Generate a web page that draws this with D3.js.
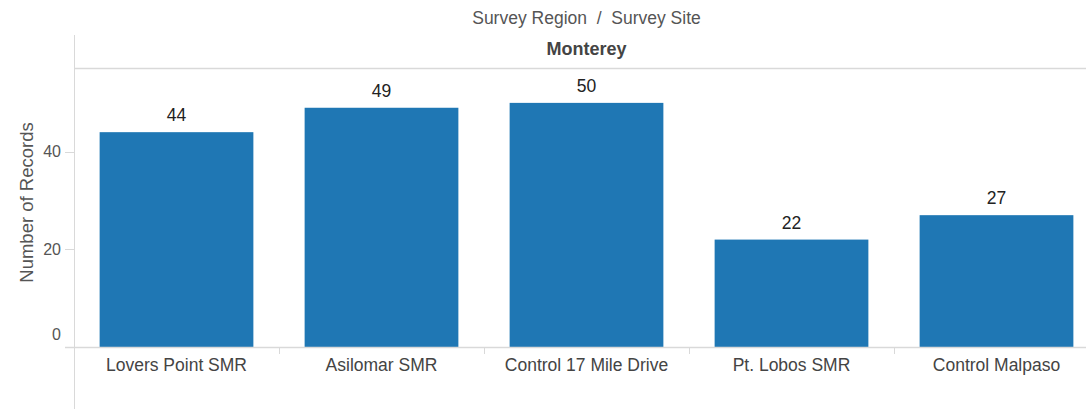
<!DOCTYPE html>
<html>
<head>
<meta charset="utf-8">
<script src="https://cdn.jsdelivr.net/npm/d3@7/dist/d3.min.js"></script>
<style>
  html, body { margin: 0; padding: 0; background: #fff; }
  svg { display: block; font-family: "Liberation Sans", Arial, sans-serif; }
</style>
</head>
<body>
<svg id="chart" width="1086" height="409"></svg>
<script>
const sites = ["Lovers Point SMR", "Asilomar SMR", "Control 17 Mile Drive", "Pt. Lobos SMR", "Control Malpaso"];
const records = [44, 49, 50, 22, 27];
const yTicks = [0, 20, 40];
const region = "Monterey";
const headerTitle = "Survey Region  /  Survey Site";
const yTitle = "Number of Records";

const svg = d3.select("#chart");
const W = 1086, H = 409;
const left = 74, right = 1099, base = 347, paneTop = 68;

const x = d3.scaleBand().domain(sites).range([left, right]).paddingInner(0.25).paddingOuter(0.125);
const y = d3.scaleLinear().domain([0, 57]).range([base, paneTop + 0.7]);

const axisCol = "#d9d9d9";

// header
svg.append("text").attr("x", (left + right) / 2).attr("y", 23.5)
  .attr("text-anchor", "middle").attr("font-size", 17.5).attr("fill", "#555")
  .style("white-space", "pre")
  .text(headerTitle);
svg.append("text").attr("x", (left + right) / 2).attr("y", 55)
  .attr("text-anchor", "middle").attr("font-size", 18).attr("font-weight", "bold").attr("fill", "#444")
  .text(region);
svg.append("line").attr("x1", left).attr("x2", W).attr("y1", paneTop + 0.5).attr("y2", paneTop + 0.5)
  .attr("stroke", axisCol).attr("stroke-width", 1.5);

// vertical axis line
svg.append("line").attr("x1", left + 0.5).attr("x2", left + 0.5).attr("y1", 35).attr("y2", H)
  .attr("stroke", axisCol).attr("stroke-width", 1);

// bars
svg.selectAll("rect.bar").data(sites).enter().append("rect")
  .attr("class", "bar")
  .attr("x", d => x(d))
  .attr("width", x.bandwidth())
  .attr("y", (d, i) => y(records[i]))
  .attr("height", (d, i) => y(0) - y(records[i]))
  .attr("fill", "#1f77b4");

// value labels
svg.selectAll("text.val").data(sites).enter().append("text")
  .attr("class", "val")
  .attr("x", d => x(d) + x.bandwidth() / 2)
  .attr("y", (d, i) => y(records[i]) - 11)
  .attr("text-anchor", "middle").attr("font-size", 17.5).attr("fill", "#222")
  .text((d, i) => records[i]);

// baseline
svg.append("line").attr("x1", 65).attr("x2", W).attr("y1", base + 0.5).attr("y2", base + 0.5)
  .attr("stroke", axisCol).attr("stroke-width", 1.5);

// band separators below baseline
const seps = sites.slice(1).map(d => x(d) - x.step() * x.paddingInner() / 2);
svg.selectAll("line.sep").data(seps).enter().append("line")
  .attr("x1", d => Math.round(d) + 0.5).attr("x2", d => Math.round(d) + 0.5)
  .attr("y1", base).attr("y2", base + 7)
  .attr("stroke", axisCol).attr("stroke-width", 1);

// category labels
svg.selectAll("text.cat").data(sites).enter().append("text")
  .attr("class", "cat")
  .attr("x", d => x(d) + x.bandwidth() / 2)
  .attr("y", 371)
  .attr("text-anchor", "middle").attr("font-size", 17.5).attr("fill", "#444")
  .text(d => d);

// y ticks
svg.selectAll("line.tick").data(yTicks).enter().append("line")
  .attr("x1", 65).attr("x2", left).attr("y1", d => Math.round(y(d)) + 0.5).attr("y2", d => Math.round(y(d)) + 0.5)
  .attr("stroke", axisCol).attr("stroke-width", 1);
svg.selectAll("text.ytl").data(yTicks).enter().append("text")
  .attr("x", 61)
  .attr("y", d => d === 0 ? y(d) - 13 : y(d))
  .attr("dy", "0.35em")
  .attr("text-anchor", "end").attr("font-size", 16).attr("fill", "#555")
  .text(d => d);

// y title
svg.append("text")
  .attr("transform", `translate(33, ${(paneTop + base) / 2 - 5}) rotate(-90)`)
  .attr("text-anchor", "middle").attr("font-size", 18.5).attr("fill", "#555")
  .text(yTitle);
</script>
</body>
</html>
